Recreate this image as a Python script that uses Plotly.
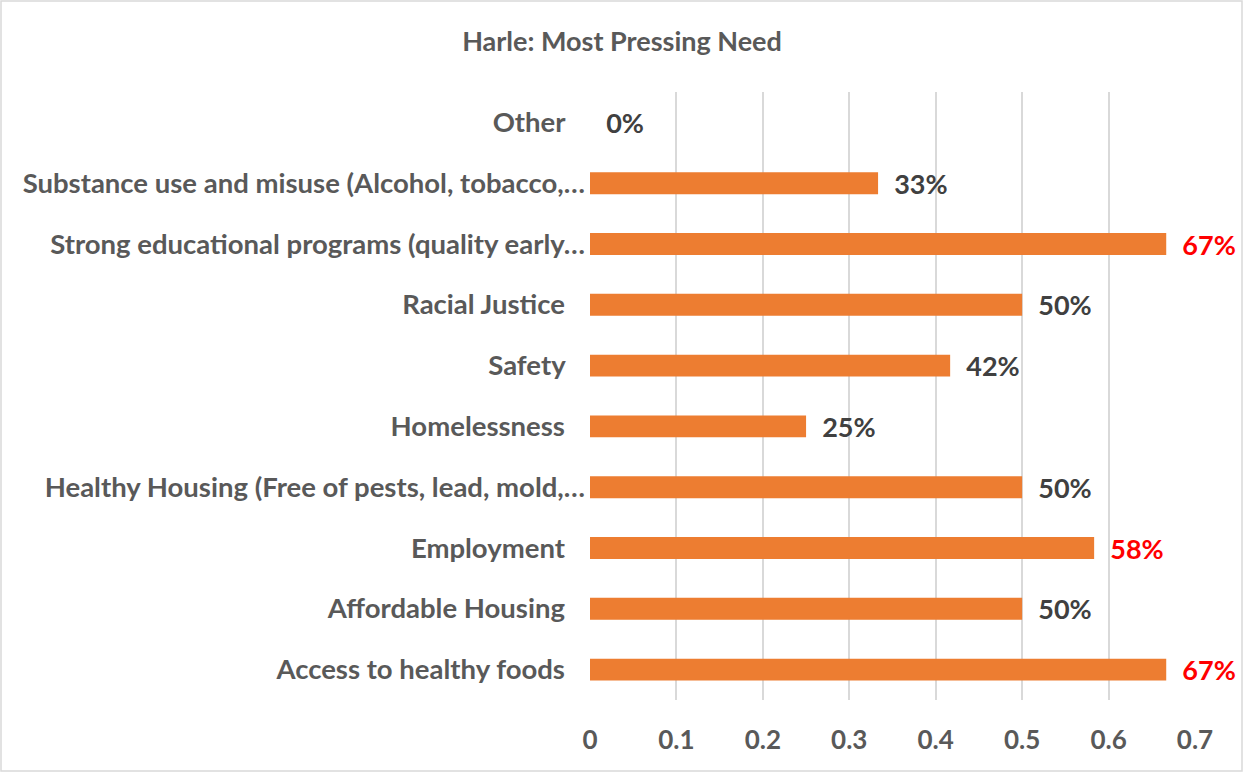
import plotly.graph_objects as go

categories = [
    "Access to healthy foods",
    "Affordable Housing",
    "Employment",
    "Healthy Housing (Free of pests, lead, mold,…",
    "Homelessness",
    "Safety",
    "Racial Justice",
    "Strong educational programs (quality early…",
    "Substance use and misuse (Alcohol, tobacco,…",
    "Other",
]
values = [0.6667, 0.5, 0.5833, 0.5, 0.25, 0.4167, 0.5, 0.6667, 0.3333, 0.0]
labels = ["67%", "50%", "58%", "50%", "25%", "42%", "50%", "67%", "33%", "0%"]
label_colors = ["#FF0000", "#404040", "#FF0000", "#404040", "#404040",
                "#404040", "#404040", "#FF0000", "#404040", "#404040"]
x_ticks = [0, 0.1, 0.2, 0.3, 0.4, 0.5, 0.6, 0.7]
x_tick_text = ["0", "0.1", "0.2", "0.3", "0.4", "0.5", "0.6", "0.7"]

FONT = "Lato, 'Open Sans', sans-serif"
W, H = 1244, 773
L, R, T, B = 590, 49, 92, 73

tick_text = [c if c.endswith("…") else c + "\u00a0\u00a0\u00a0" for c in categories]

fig = go.Figure()
fig.add_trace(go.Bar(
    y=categories,
    x=values,
    orientation="h",
    width=0.36,
    marker=dict(color="#ED7D31", line=dict(width=0)),
    text=["\u00a0\u00a0" + t for t in labels],
    textposition="outside",
    constraintext="none",
    textfont=dict(family=FONT, size=27, color=label_colors, weight="bold"),
    cliponaxis=False,
    hoverinfo="skip",
))

pw = W - L - R
ph = H - T - B
fig.add_shape(
    type="rect", xref="paper", yref="paper",
    x0=(1 - L) / pw, x1=(W - 2 - L) / pw,
    y0=1 - (H - 2 - T) / ph, y1=1 - (1 - T) / ph,
    line=dict(color="#D9D9D9", width=1.5), fillcolor="rgba(0,0,0,0)",
    layer="below",
)

fig.update_layout(
    width=W, height=H,
    margin=dict(l=L, r=R, t=T, b=B),
    paper_bgcolor="white", plot_bgcolor="white",
    showlegend=False,
    title=dict(
        text="<b>Harle: Most Pressing Need</b>",
        x=0.5, xref="container", xanchor="center",
        y=1 - 42 / H, yref="container", yanchor="middle",
        font=dict(family=FONT, size=27, color="#595959"),
    ),
    xaxis=dict(
        range=[0, 0.7],
        tickvals=x_ticks, ticktext=x_tick_text,
        showgrid=True, gridcolor="#D9D9D9", gridwidth=1.5,
        zeroline=False, showline=False, ticks="",
        ticklabelstandoff=22,
        tickfont=dict(family=FONT, size=26, color="#595959", weight="bold"),
        fixedrange=True,
    ),
    yaxis=dict(
        categoryorder="array", categoryarray=categories,
        tickvals=categories, ticktext=tick_text,
        showgrid=False, zeroline=False, showline=False, ticks="",
        ticklabelstandoff=4,
        tickfont=dict(family=FONT, size=27.5, color="#595959", weight="bold"),
        fixedrange=True,
    ),
)

fig.write_html("out.html", config={"displayModeBar": False},
               post_script="document.body.style.margin='0';")
